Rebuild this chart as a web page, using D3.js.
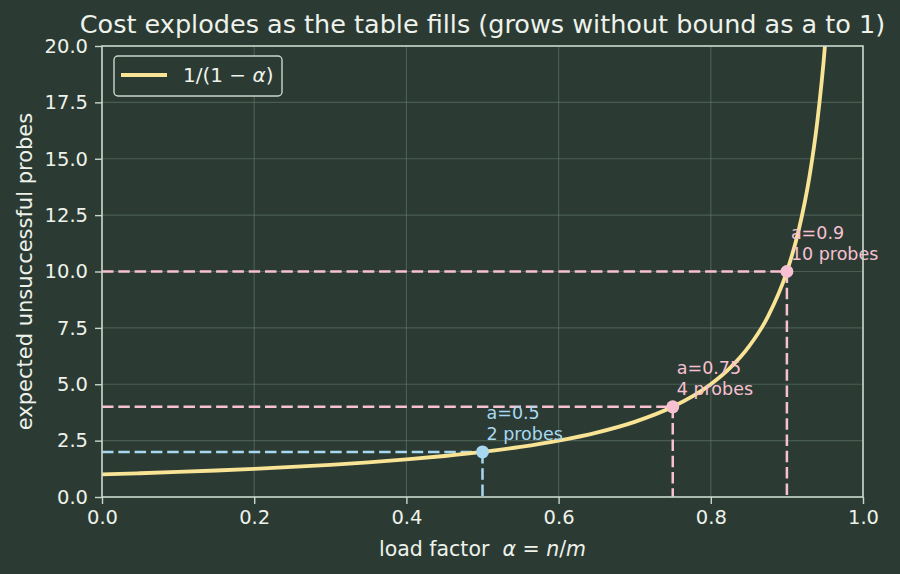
<!DOCTYPE html>
<html>
<head>
<meta charset="utf-8">
<script src="https://cdn.jsdelivr.net/npm/d3@7"></script>
<style>
  body { margin: 0; background: #2b3b34; }
  svg { display: block; font-family: "DejaVu Sans", sans-serif; }
</style>
</head>
<body>
<div id="chart"></div>
<script>
// curve samples of 1/(1 - alpha)
const alphas = [0, 0.05, 0.1, 0.15, 0.2, 0.25, 0.3, 0.35, 0.4, 0.45, 0.5, 0.55, 0.6, 0.65, 0.7, 0.75, 0.8, 0.825, 0.85, 0.875, 0.9, 0.915, 0.93, 0.94, 0.95, 0.96];
const probes = [1, 1.053, 1.111, 1.176, 1.25, 1.333, 1.429, 1.538, 1.667, 1.818, 2, 2.222, 2.5, 2.857, 3.333, 4, 5, 5.714, 6.667, 8, 10, 11.765, 14.286, 16.667, 20, 25];

// marked points
const markAlpha = [0.5, 0.75, 0.9];
const markProbes = [2, 4, 10];
const markColors = ["#a8d8f0", "#f7c1d1", "#f7c1d1"];

const xTicks = [0, 0.2, 0.4, 0.6, 0.8, 1.0];
const yTicks = [0, 2.5, 5, 7.5, 10, 12.5, 15, 17.5, 20];

const width = 900, height = 574;
const margin = { top: 46, right: 37, bottom: 77, left: 102 };
const textColor = "#eef2ea";
const axisColor = "#c9d6cb";

const svg = d3.select("#chart").append("svg")
  .attr("width", width).attr("height", height);

svg.append("rect").attr("width", width).attr("height", height).attr("fill", "#2b3b34");

const x = d3.scaleLinear().domain([0, 1]).range([margin.left, width - margin.right]);
const y = d3.scaleLinear().domain([0, 20]).range([height - margin.bottom, margin.top]);

// grid
svg.append("g").selectAll("line").data(xTicks).enter().append("line")
  .attr("x1", d => x(d)).attr("x2", d => x(d))
  .attr("y1", y(0)).attr("y2", y(20))
  .attr("stroke", "#6f8577").attr("stroke-opacity", 0.45).attr("stroke-width", 1.2);
svg.append("g").selectAll("line").data(yTicks).enter().append("line")
  .attr("y1", d => y(d)).attr("y2", d => y(d))
  .attr("x1", x(0)).attr("x2", x(1))
  .attr("stroke", "#6f8577").attr("stroke-opacity", 0.45).attr("stroke-width", 1.2);

svg.append("defs").append("clipPath").attr("id", "clip")
  .append("rect").attr("x", x(0)).attr("y", y(20))
  .attr("width", x(1) - x(0)).attr("height", y(0) - y(20));

const plot = svg.append("g").attr("clip-path", "url(#clip)");

// dashed guides
markAlpha.forEach((a, i) => {
  plot.append("line")
    .attr("x1", x(0)).attr("x2", x(a))
    .attr("y1", y(markProbes[i])).attr("y2", y(markProbes[i]))
    .attr("stroke", markColors[i]).attr("stroke-width", 2.5)
    .attr("stroke-dasharray", "11.5,4.8");
  plot.append("line")
    .attr("x1", x(a)).attr("x2", x(a))
    .attr("y1", y(markProbes[i])).attr("y2", y(0))
    .attr("stroke", markColors[i]).attr("stroke-width", 2.5)
    .attr("stroke-dasharray", "11.5,4.8");
});

// curve
const line = d3.line()
  .x((d, i) => x(alphas[i]))
  .y(d => y(d))
  .curve(d3.curveMonotoneX);

plot.append("path").datum(probes)
  .attr("d", line)
  .attr("fill", "none")
  .attr("stroke", "#f9e394")
  .attr("stroke-width", 3.8);

// points and labels
markAlpha.forEach((a, i) => {
  svg.append("circle")
    .attr("cx", x(a)).attr("cy", y(markProbes[i])).attr("r", 6.5)
    .attr("fill", markColors[i]);
  const t = svg.append("text")
    .attr("x", x(a) + 4).attr("y", y(markProbes[i]) - 33)
    .attr("fill", markColors[i]).attr("font-size", 17.5);
  t.append("tspan").attr("x", x(a) + 4).text("a=" + a);
  t.append("tspan").attr("x", x(a) + 4).attr("dy", 21).text(markProbes[i] + " probes");
});

// axes
const xAxis = svg.append("g")
  .attr("transform", `translate(0,${y(0)})`)
  .call(d3.axisBottom(x).tickValues(xTicks).tickFormat(d3.format(".1f")).tickSize(7).tickPadding(6));
const yAxis = svg.append("g")
  .attr("transform", `translate(${x(0)},0)`)
  .call(d3.axisLeft(y).tickValues(yTicks).tickFormat(d3.format(".1f")).tickSize(7).tickPadding(7));

[xAxis, yAxis].forEach(g => {
  g.select(".domain").remove();
  g.selectAll("line").attr("stroke", axisColor).attr("stroke-width", 1.4);
  g.selectAll("text").attr("fill", textColor).attr("font-size", 19.5)
    .attr("font-family", "DejaVu Sans, sans-serif");
});

// frame
svg.append("rect")
  .attr("x", x(0)).attr("y", y(20))
  .attr("width", x(1) - x(0)).attr("height", y(0) - y(20))
  .attr("fill", "none").attr("stroke", axisColor).attr("stroke-width", 1.6);

// title
svg.append("text")
  .attr("x", (x(0) + x(1)) / 2).attr("y", 33)
  .attr("text-anchor", "middle").attr("fill", textColor).attr("font-size", 25.5)
  .text("Cost explodes as the table fills (grows without bound as a to 1)");

// x label
const xl = svg.append("text")
  .attr("x", (x(0) + x(1)) / 2).attr("y", 556)
  .attr("text-anchor", "middle").attr("fill", textColor).attr("font-size", 20.5)
  .style("white-space", "pre");
xl.append("tspan").text("load factor  ");
xl.append("tspan").attr("font-style", "italic").text("α");
xl.append("tspan").text(" = ");
xl.append("tspan").attr("font-style", "italic").text("n");
xl.append("tspan").text("/");
xl.append("tspan").attr("font-style", "italic").text("m");

// y label
svg.append("text")
  .attr("transform", `translate(32,${(y(0) + y(20)) / 2}) rotate(-90)`)
  .attr("text-anchor", "middle").attr("fill", textColor).attr("font-size", 21)
  .text("expected unsuccessful probes");

// legend
const lg = svg.append("g");
lg.append("rect")
  .attr("x", 114).attr("y", 56).attr("width", 168).attr("height", 40).attr("rx", 4)
  .attr("fill", "#2b3b34").attr("stroke", axisColor).attr("stroke-width", 1.4);
lg.append("line")
  .attr("x1", 121).attr("x2", 167).attr("y1", 75).attr("y2", 75)
  .attr("stroke", "#f9e394").attr("stroke-width", 3.8);
const lt = lg.append("text").attr("x", 183).attr("y", 82)
  .attr("fill", textColor).attr("font-size", 20);
lt.append("tspan").text("1/(1 − ");
lt.append("tspan").attr("font-style", "italic").text("α");
lt.append("tspan").text(")");
</script>
</body>
</html>
